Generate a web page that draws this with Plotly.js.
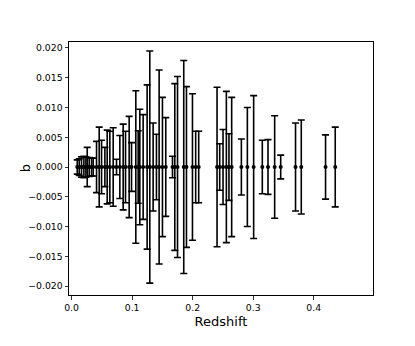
<!DOCTYPE html>
<html>
<head>
<meta charset="utf-8">
<script src="https://cdn.plot.ly/plotly-3.0.1.min.js"></script>
<style>
    html, body { margin: 0; padding: 0; background: #fff; }
    #graph { width: 415px; height: 346px; }
</style>
</head>
<body>
<div id="graph"></div>
<script>
const redshift = [
    0.0093, 0.0126, 0.0164, 0.0203, 0.0236, 0.0258, 0.0291, 0.0330, 0.0357, 0.0412,
    0.0456, 0.0495, 0.0550, 0.0588, 0.0632, 0.0687, 0.0742, 0.0797, 0.0852, 0.0891,
    0.0951, 0.0990, 0.1061, 0.1100, 0.1127, 0.1182, 0.1248, 0.1292, 0.1347, 0.1402,
    0.1446, 0.1501, 0.1556, 0.1667, 0.1705, 0.1750, 0.1853, 0.1898, 0.1997, 0.2050,
    0.2100, 0.2403, 0.2447, 0.2502, 0.2557, 0.2600, 0.2645, 0.2805, 0.2904, 0.3008,
    0.3151, 0.3245, 0.3355, 0.3455, 0.3700, 0.3795, 0.4196, 0.4356
];
const bError = [
    0.0012, 0.0014, 0.0017, 0.0018, 0.0017, 0.0033, 0.0016, 0.0015, 0.0015, 0.0043,
    0.0067, 0.0045, 0.0033, 0.0062, 0.0060, 0.0066, 0.0013, 0.0053, 0.0072, 0.0060,
    0.0085, 0.0041, 0.0128, 0.0061, 0.0097, 0.0088, 0.0138, 0.0195, 0.0074, 0.0055,
    0.0163, 0.0117, 0.0083, 0.0018, 0.0140, 0.0152, 0.0179, 0.0135, 0.0123, 0.0060,
    0.0060, 0.0134, 0.0039, 0.0063, 0.0127, 0.0056, 0.0117, 0.0047, 0.0100, 0.0120,
    0.0045, 0.0046, 0.0086, 0.0020, 0.0074, 0.0079, 0.0054, 0.0067
];
const bValue = redshift.map(() => 0);

const trace = {
    x: redshift,
    y: bValue,
    mode: 'markers',
    type: 'scatter',
    marker: { color: 'black', size: 4 },
    error_y: {
        type: 'data',
        array: bError,
        symmetric: true,
        color: 'black',
        thickness: 1.6,
        width: 3.5
    },
    hoverinfo: 'none'
};

const axisStyle = {
    showgrid: false,
    zeroline: false,
    showline: true,
    linecolor: 'black',
    linewidth: 1,
    mirror: true,
    ticks: 'outside',
    ticklen: 3.5,
    tickwidth: 0.8,
    tickcolor: 'black',
    tickfont: { family: 'DejaVu Sans', size: 9.3, color: 'black' }
};

const layout = {
    width: 415,
    height: 346,
    margin: { l: 69, r: 42, t: 42, b: 51 },
    paper_bgcolor: 'white',
    plot_bgcolor: 'white',
    showlegend: false,
    xaxis: Object.assign({}, axisStyle, {
        range: [-0.0043, 0.498],
        tickvals: [0, 0.1, 0.2, 0.3, 0.4],
        tickformat: '.1f',
        title: { text: 'Redshift', font: { family: 'DejaVu Sans', size: 13, color: 'black' }, standoff: 5 }
    }),
    yaxis: Object.assign({}, axisStyle, {
        range: [-0.0215, 0.0210],
        dtick: 0.005,
        tick0: 0,
        tickformat: '.3f'
    }),
    // y label sits closer to the tick labels than plotly's title would
    annotations: [{
        text: 'b',
        xref: 'paper', yref: 'paper',
        x: -0.142, y: 0.5,
        xanchor: 'center', yanchor: 'middle',
        textangle: -90,
        showarrow: false,
        font: { family: 'DejaVu Sans', size: 13, color: 'black' }
    }]
};

Plotly.newPlot('graph', [trace], layout, { displayModeBar: false, staticPlot: true });
</script>
</body>
</html>
